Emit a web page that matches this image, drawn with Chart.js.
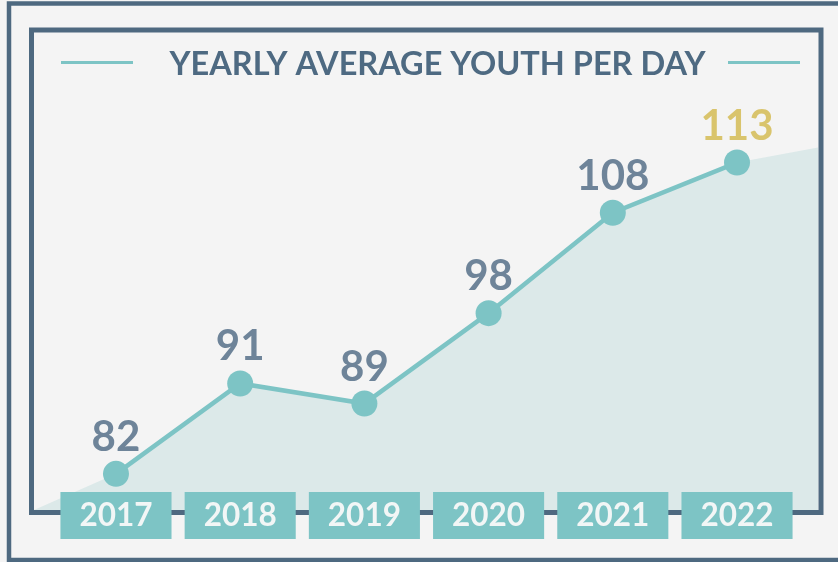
<!DOCTYPE html>
<html>
<head>
<meta charset="utf-8">
<script src="https://cdn.jsdelivr.net/npm/chart.js@4/dist/chart.umd.min.js"></script>
<style>
  html, body { margin: 0; padding: 0; background: #f4f4f4; }
  canvas { display: block; }
</style>
</head>
<body>
<canvas id="c" width="838" height="562"></canvas>
<script>
// ---- data ----
const title = 'YEARLY AVERAGE YOUTH PER DAY';
const years = ['2017', '2018', '2019', '2020', '2021', '2022'];
const youthPerDay = [82, 91, 89, 98, 108, 113];
// shaded trend band: lead-in and lead-out values at the chart edges
const bandLeadIn = 78.4;
const bandLeadOut = 114.5;

// ---- style ----
const C_BG = '#f4f4f4';
const C_FRAME = '#4e6980';
const C_TEAL = '#7dc4c5';
const C_BAND = '#dce9e9';
const C_LABEL = '#6e8499';
const C_HILITE = '#d9c46c';
const C_TITLE = '#4e6a82';

const X_MIN = -0.66, X_MAX = 5.652;
const Y_MIN = 78.4, Y_MAX = 125.9;

const linePts = youthPerDay.map((v, i) => ({ x: i, y: v }));
const bandPts = [{ x: X_MIN, y: bandLeadIn }, ...linePts, { x: X_MAX, y: bandLeadOut }];

const decor = {
  id: 'decor',
  beforeDraw(chart) {
    const ctx = chart.ctx;
    ctx.save();
    ctx.fillStyle = C_BG;
    ctx.fillRect(0, 0, chart.width, chart.height);
    ctx.strokeStyle = C_FRAME;
    // outer border
    ctx.lineWidth = 4.5;
    ctx.strokeRect(9, 3.5, 900, 556.5);
    // inner frame
    ctx.lineWidth = 5;
    ctx.strokeRect(31.5, 30, 789.5, 482.5);
    // title
    ctx.font = 'bold 32.5px Lato';
    ctx.fillStyle = C_TITLE;
    ctx.textAlign = 'center';
    ctx.textBaseline = 'alphabetic';
    ctx.fillText(title, 437.5, 75);
    // title side lines
    ctx.strokeStyle = C_TEAL;
    ctx.lineWidth = 3;
    ctx.beginPath();
    ctx.moveTo(61, 62.5); ctx.lineTo(133, 62.5);
    ctx.moveTo(728, 62.5); ctx.lineTo(800, 62.5);
    ctx.stroke();
    ctx.restore();
  },
  afterDatasetsDraw(chart) {
    const ctx = chart.ctx;
    const meta = chart.getDatasetMeta(0);
    ctx.save();
    ctx.font = 'bold 42px Lato';
    ctx.textAlign = 'center';
    ctx.textBaseline = 'alphabetic';
    meta.data.forEach((el, i) => {
      ctx.fillStyle = i === youthPerDay.length - 1 ? C_HILITE : C_LABEL;
      ctx.fillText(String(youthPerDay[i]), el.x, el.y - 23);
    });
    ctx.restore();
  }
};

new Chart(document.getElementById('c'), {
  type: 'line',
  data: {
    datasets: [
      {
        data: linePts,
        borderColor: C_TEAL,
        borderWidth: 4.5,
        pointRadius: 13,
        pointHoverRadius: 13,
        pointBackgroundColor: C_TEAL,
        pointBorderWidth: 0,
        tension: 0,
        fill: false,
        order: 1
      },
      {
        data: bandPts,
        borderWidth: 0,
        borderColor: 'rgba(0,0,0,0)',
        backgroundColor: C_BAND,
        pointRadius: 0,
        tension: 0,
        fill: 'start',
        order: 2
      }
    ]
  },
  options: {
    responsive: false,
    animation: false,
    layout: { padding: { left: 34, right: 20, top: 33, bottom: 0 } },
    plugins: { legend: { display: false }, tooltip: { enabled: false }, title: { display: false } },
    scales: {
      x: {
        type: 'linear',
        min: X_MIN,
        max: X_MAX,
        grid: { display: false, drawTicks: false },
        border: { display: false },
        afterBuildTicks: (s) => { s.ticks = years.map((_, i) => ({ value: i })); },
        afterFit: (s) => { s.height = 52; },
        ticks: {
          z: 1,
          mirror: true,
          autoSkip: false,
          maxRotation: 0,
          minRotation: 0,
          padding: -23.5,
          color: '#f2f6f6',
          font: { family: 'Lato', weight: 'bold', size: 31.5, lineHeight: '36px' },
          callback: (v) => years[v] ?? '',
          showLabelBackdrop: true,
          backdropColor: C_TEAL,
          backdropPadding: { left: 19, right: 19, top: 5.5, bottom: 5.5 }
        }
      },
      y: {
        type: 'linear',
        display: false,
        min: Y_MIN,
        max: Y_MAX
      }
    }
  },
  plugins: [decor]
});
</script>
</body>
</html>
